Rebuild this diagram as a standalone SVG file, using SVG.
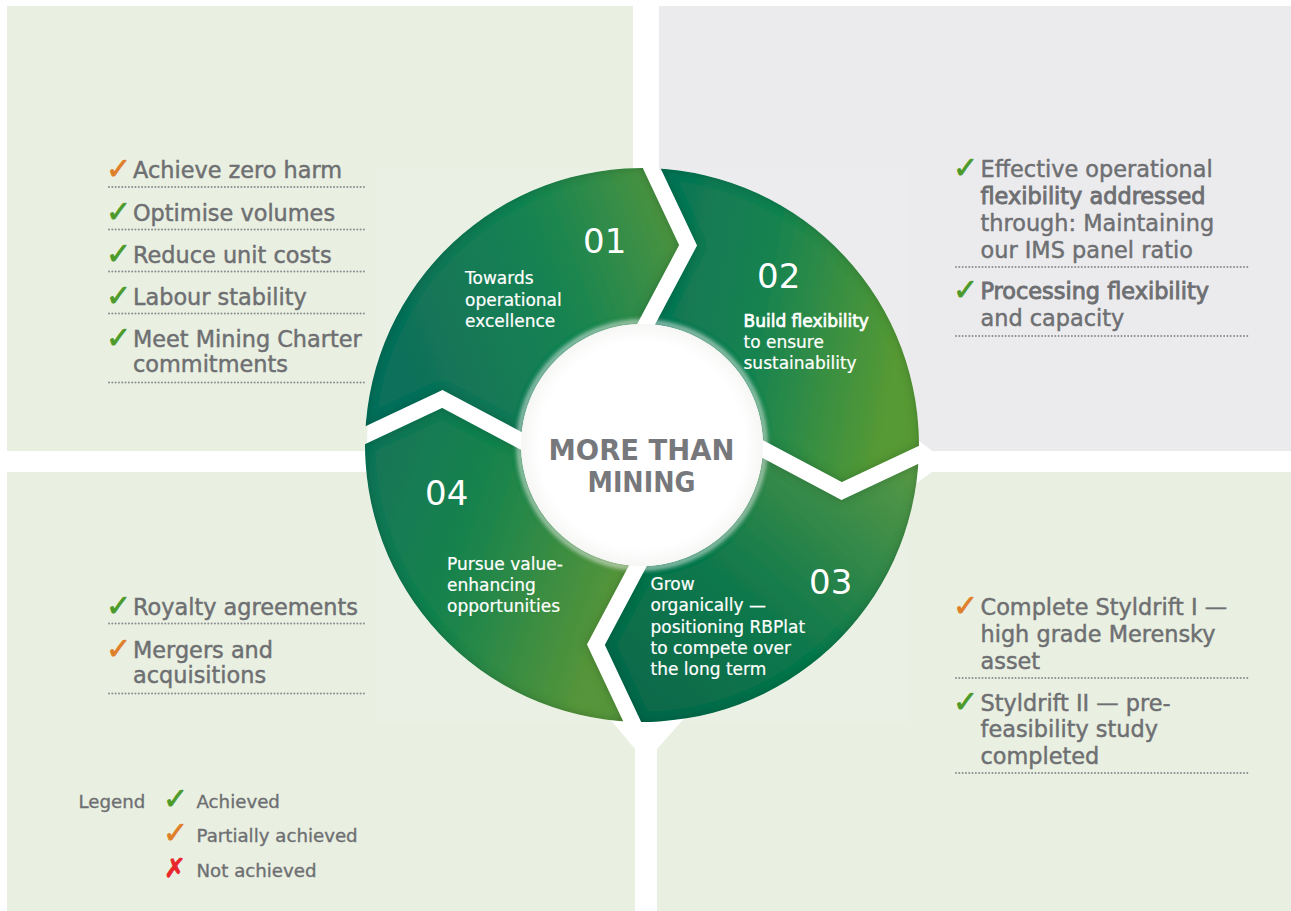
<svg xmlns="http://www.w3.org/2000/svg" width="1291" height="911" viewBox="0 0 1291 911">
  <defs>
    <style>
      .panel-green { fill: #e9efe1; }
      .panel-grey { fill: #ebebed; }
      .li { font-family: "DejaVu Sans", "Liberation Sans", sans-serif; font-size: 22.4px; fill: #6e6f72; stroke: #6e6f72; stroke-width: 0.45px; }
      .li-b { stroke-width: 0.9px; }
      .ck { font-family: "DejaVu Sans", sans-serif; font-size: 30px; stroke-width: 0.8px; }
      .ok { fill: #4c9a2a; stroke: #4c9a2a; }
      .part { fill: #e07f2a; stroke: #e07f2a; }
      .no { fill: #e8262b; stroke: #e8262b; }
      .lg { font-family: "DejaVu Sans", "Liberation Sans", sans-serif; font-size: 18.2px; fill: #6e6f72; stroke: #6e6f72; stroke-width: 0.35px; }
      .dot { fill: none; stroke: #8c8d90; stroke-width: 2; stroke-dasharray: 0.01 3.3; stroke-linecap: round; }
      .sl { font-family: "DejaVu Sans", "Liberation Sans", sans-serif; font-size: 17px; fill: #ffffff; stroke: #ffffff; stroke-width: 0.2px; }
      .sl-b { stroke-width: 0.7px; }
      .num { font-family: "DejaVu Sans", "Liberation Sans", sans-serif; font-size: 34px; fill: #ffffff; }
      .hub { font-family: "DejaVu Sans", "Liberation Sans", sans-serif; font-weight: bold; font-size: 28px; fill: #77787b; }
      .gap { fill: none; stroke: #000000; stroke-width: 16; stroke-linejoin: miter; }
    </style>

    <linearGradient id="g01" x1="0" y1="0.3" x2="1" y2="0">
      <stop offset="0" stop-color="#10705a"/>
      <stop offset="0.55" stop-color="#1a8550"/>
      <stop offset="1" stop-color="#5a973b"/>
    </linearGradient>
    <linearGradient id="g02" x1="0" y1="0" x2="1" y2="0.2">
      <stop offset="0" stop-color="#0d7155"/>
      <stop offset="0.5" stop-color="#188350"/>
      <stop offset="1" stop-color="#579a34"/>
    </linearGradient>
    <linearGradient id="g03" x1="0" y1="1" x2="1" y2="0">
      <stop offset="0" stop-color="#05654a"/>
      <stop offset="0.5" stop-color="#127a4c"/>
      <stop offset="1" stop-color="#5e9b44"/>
    </linearGradient>
    <linearGradient id="g04" x1="0" y1="0" x2="1" y2="0.4">
      <stop offset="0" stop-color="#107259"/>
      <stop offset="0.5" stop-color="#1a844c"/>
      <stop offset="1" stop-color="#56953a"/>
    </linearGradient>

    <radialGradient id="hubFill" cx="0.5" cy="0.5" r="0.5">
      <stop offset="0.85" stop-color="#ffffff"/>
      <stop offset="1" stop-color="#f6f7f5"/>
    </radialGradient>

    <!-- soft darkening along the inside edges of each arrow segment -->
    <filter id="bevel" x="-5%" y="-5%" width="110%" height="110%">
      <feGaussianBlur in="SourceAlpha" stdDeviation="5" result="blur"/>
      <feComposite in="SourceAlpha" in2="blur" operator="arithmetic" k2="1" k3="-1" result="edge"/>
      <feFlood flood-color="#003322" flood-opacity="0.45"/>
      <feComposite in2="edge" operator="in" result="shade"/>
      <feMerge>
        <feMergeNode in="SourceGraphic"/>
        <feMergeNode in="shade"/>
      </feMerge>
    </filter>

    <filter id="soft" x="-10%" y="-10%" width="120%" height="120%">
      <feGaussianBlur stdDeviation="2"/>
    </filter>

    <!-- white chevron gaps cut between the four arrows -->
    <mask id="gapMask" maskUnits="userSpaceOnUse" x="0" y="0" width="1291" height="911">
      <rect x="0" y="0" width="1291" height="911" fill="#ffffff"/>
      <polyline class="gap" points="643.2,150.1 688.1,245.3 636.8,341.8"/>
      <polyline class="gap" points="936.9,446.2 841.7,491.1 745.2,439.8"/>
      <polyline class="gap" points="640.8,739.9 595.9,644.7 647.2,548.2"/>
      <polyline class="gap" points="347.1,443.8 442.3,398.9 538.8,450.2"/>
    </mask>
  </defs>

  <!-- background quadrants -->
  <g id="panels">
    <rect class="panel-green" x="7" y="6" width="626" height="445"/>
    <rect class="panel-grey" x="659" y="6" width="632" height="445"/>
    <rect class="panel-green" x="7" y="472" width="628" height="439"/>
    <rect class="panel-green" x="657" y="472" width="634" height="439"/>
    <rect x="376" y="168" width="532" height="554" fill="#ffffff" opacity="0.07"/>
    <polygon points="604,712 690,712 657,749 635,749" fill="#ffffff"/>
    <polygon points="898,434 918,440 932,451 932,472 918,482 898,488" fill="#ffffff"/>
  </g>

  <!-- cycle ring -->
  <g id="ring">
    <circle cx="642" cy="445" r="275" fill="#ffffff"/>
  </g>

  <g id="step-01">
    <g filter="url(#bevel)">
      <path mask="url(#gapMask)" fill="url(#g01)" d="M521.1,440.8 L442.3,398.9 L365.2,435.3 A277,277 0 0 1 651.7,168.2 L688.1,245.3 L646.2,324.1 A121,121 0 0 0 521.1,440.8 Z"/>
    </g>
    <text class="num" x="583" y="253">01</text>
    <text class="sl" x="465" y="284">Towards</text>
    <text class="sl" x="465" y="306">operational</text>
    <text class="sl" x="465" y="327">excellence</text>
  </g>

  <g id="step-02">
    <g filter="url(#bevel)">
      <path mask="url(#gapMask)" fill="url(#g02)" d="M646.2,324.1 L688.1,245.3 L651.7,168.2 A277,277 0 0 1 918.8,454.7 L841.7,491.1 L762.9,449.2 A121,121 0 0 0 646.2,324.1 Z"/>
    </g>
    <text class="num" x="757" y="288">02</text>
    <text class="sl sl-b" x="743.5" y="327">Build flexibility</text>
    <text class="sl" x="743.5" y="348">to ensure</text>
    <text class="sl" x="743.5" y="369">sustainability</text>
  </g>

  <g id="step-03">
    <g filter="url(#bevel)">
      <path mask="url(#gapMask)" fill="url(#g03)" d="M762.9,449.2 L841.7,491.1 L918.8,454.7 A277,277 0 0 1 632.3,721.8 L595.9,644.7 L637.8,565.9 A121,121 0 0 0 762.9,449.2 Z"/>
    </g>
    <text class="num" x="809" y="594">03</text>
    <text class="sl" x="650.5" y="590">Grow</text>
    <text class="sl" x="650.5" y="611">organically —</text>
    <text class="sl" x="650.5" y="633">positioning RBPlat</text>
    <text class="sl" x="650.5" y="654">to compete over</text>
    <text class="sl" x="650.5" y="675">the long term</text>
  </g>

  <g id="step-04">
    <g filter="url(#bevel)">
      <path mask="url(#gapMask)" fill="url(#g04)" d="M637.8,565.9 L595.9,644.7 L632.3,721.8 A277,277 0 0 1 365.2,435.3 L442.3,398.9 L521.1,440.8 A121,121 0 0 0 637.8,565.9 Z"/>
    </g>
    <text class="num" x="425" y="505">04</text>
    <text class="sl" x="447" y="570">Pursue value-</text>
    <text class="sl" x="447" y="591">enhancing</text>
    <text class="sl" x="447" y="612">opportunities</text>
  </g>

  <!-- centre hub -->
  <g id="hub">
    <circle cx="642" cy="445" r="123" fill="none" stroke="#ffffff" stroke-width="5" opacity="0.6" filter="url(#soft)"/>
    <circle cx="642" cy="445" r="121" fill="url(#hubFill)"/>
    <text class="hub" x="641.5" y="459.5" text-anchor="middle" textLength="186" lengthAdjust="spacingAndGlyphs">MORE THAN</text>
    <text class="hub" x="641.5" y="492" text-anchor="middle" textLength="108" lengthAdjust="spacingAndGlyphs">MINING</text>
  </g>

  <!-- quadrant lists -->
  <g id="list-operational">
    <text class="ck part" x="106" y="179">✓</text>
    <text class="li" x="133" y="178">Achieve zero harm</text>
    <line class="dot" x1="109" y1="187" x2="367" y2="187"/>
    <text class="ck ok" x="106" y="222">✓</text>
    <text class="li" x="133" y="221">Optimise volumes</text>
    <line class="dot" x1="109" y1="229.5" x2="367" y2="229.5"/>
    <text class="ck ok" x="106" y="264">✓</text>
    <text class="li" x="133" y="263">Reduce unit costs</text>
    <line class="dot" x1="109" y1="271.5" x2="367" y2="271.5"/>
    <text class="ck ok" x="106" y="306">✓</text>
    <text class="li" x="133" y="305">Labour stability</text>
    <line class="dot" x1="109" y1="313.5" x2="367" y2="313.5"/>
    <text class="ck ok" x="106" y="347.5">✓</text>
    <text class="li" x="133" y="346.5">Meet Mining Charter</text>
    <text class="li" x="133" y="371.5">commitments</text>
    <line class="dot" x1="109" y1="382.5" x2="367" y2="382.5"/>
  </g>

  <g id="list-flexibility">
    <text class="ck ok" x="953" y="178">✓</text>
    <text class="li" x="980.5" y="177">Effective operational</text>
    <text class="li li-b" x="980.5" y="204">flexibility addressed</text>
    <text class="li" x="980.5" y="231">through: Maintaining</text>
    <text class="li" x="980.5" y="257.5">our IMS panel ratio</text>
    <line class="dot" x1="956" y1="267" x2="1250" y2="267"/>
    <text class="ck ok" x="953" y="300">✓</text>
    <text class="li li-b" x="980.5" y="299">Processing flexibility</text>
    <text class="li" x="980.5" y="325.5">and capacity</text>
    <line class="dot" x1="956" y1="336" x2="1250" y2="336"/>
  </g>

  <g id="list-growth">
    <text class="ck part" x="953" y="615.5">✓</text>
    <text class="li" x="980.5" y="614.5">Complete Styldrift I —</text>
    <text class="li" x="980.5" y="642">high grade Merensky</text>
    <text class="li" x="980.5" y="668.5">asset</text>
    <line class="dot" x1="956" y1="678" x2="1250" y2="678"/>
    <text class="ck ok" x="953" y="711.5">✓</text>
    <text class="li" x="980.5" y="710.5">Styldrift II — pre-</text>
    <text class="li" x="980.5" y="737">feasibility study</text>
    <text class="li" x="980.5" y="763.5">completed</text>
    <line class="dot" x1="956" y1="773" x2="1250" y2="773"/>
  </g>

  <g id="list-value">
    <text class="ck ok" x="106" y="615.5">✓</text>
    <text class="li" x="133" y="614.5">Royalty agreements</text>
    <line class="dot" x1="109" y1="623.5" x2="367" y2="623.5"/>
    <text class="ck part" x="106" y="658.5">✓</text>
    <text class="li" x="133" y="657.5">Mergers and</text>
    <text class="li" x="133" y="682.5">acquisitions</text>
    <line class="dot" x1="109" y1="693.5" x2="367" y2="693.5"/>
  </g>

  <g id="legend">
    <text class="lg" x="78.5" y="808">Legend</text>
    <text class="ck ok" x="163" y="809">✓</text>
    <text class="lg" x="196.5" y="808">Achieved</text>
    <text class="ck part" x="163" y="843">✓</text>
    <text class="lg" x="196.5" y="842">Partially achieved</text>
    <text class="ck no" x="164" y="877" style="font-size:26px">✗</text>
    <text class="lg" x="196.5" y="876.5">Not achieved</text>
  </g>
</svg>
